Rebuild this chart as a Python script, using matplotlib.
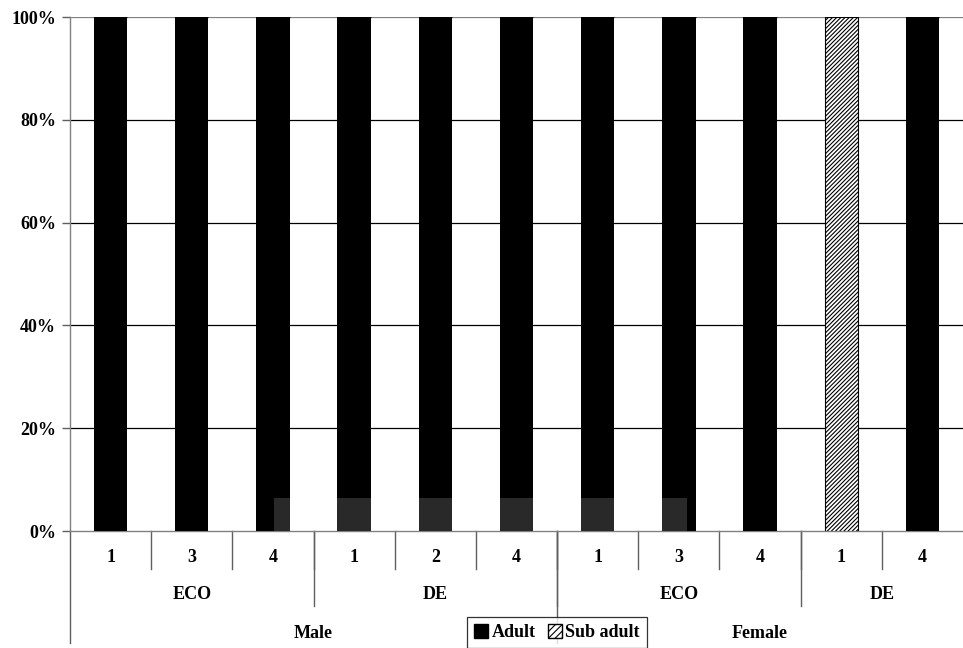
import numpy as np
import matplotlib
matplotlib.use("Agg")
import matplotlib.pyplot as plt
from matplotlib.patches import Patch, Rectangle
from matplotlib.lines import Line2D

plt.rcParams['font.family'] = ['Liberation Serif', 'DejaVu Serif']
plt.rcParams['font.weight'] = 'bold'
plt.rcParams['hatch.linewidth'] = 0.8

# data
sites = ['1', '3', '4', '1', '2', '4', '1', '3', '4', '1', '4']
groups = ['ECO', 'DE', 'ECO', 'DE']
group_sizes = [3, 3, 3, 2]
sexes = ['Male', 'Female']
sex_sizes = [6, 5]
adult = [100, 100, 100, 100, 100, 100, 100, 100, 100, 0, 100]
sub_adult = [0, 0, 0, 0, 0, 0, 0, 0, 0, 100, 0]
yticks = [0, 20, 40, 60, 80, 100]

FS = 13

fig = plt.figure(figsize=(9.63, 6.48), dpi=100)
ax = fig.add_axes([70/963, 1-531/648, 893/963, 514/648])

x = np.arange(len(sites))
w = 0.41
ax.bar(x, adult, w, color='black', zorder=3)
ax.bar(x, sub_adult, w, bottom=adult, color='white', edgecolor='black',
       hatch='////////', linewidth=0.8, zorder=3)

ax.set_xlim(-0.5, len(sites) - 0.5)
ax.set_ylim(0, 100)
ax.set_yticks(yticks)
ax.set_yticklabels([f'{v}%' for v in yticks], fontsize=FS, fontweight='bold')
ax.set_xticks([])
ax.tick_params(axis='y', length=6, color='#606060', width=1, pad=4)
for g in yticks[1:]:
    ax.axhline(g, color='black' if g < 100 else '#808080', lw=0.9, zorder=1)
for s in ['top', 'right']:
    ax.spines[s].set_visible(False)
for s in ['left', 'bottom']:
    ax.spines[s].set_color('#808080')
    ax.spines[s].set_linewidth(1)

# watermark shading over bar bottoms
ax.add_patch(Rectangle((2.01, 0), 5.09, 6.4, facecolor='white', alpha=0.165,
                       edgecolor='none', zorder=4))

# multi-level category axis
trans = ax.get_xaxis_transform()
sep = dict(color='#606060', lw=1, transform=trans, clip_on=False)
ax.add_line(Line2D([-0.5, -0.5], [0, -0.218], **sep))
for i in range(len(sites)):
    ax.text(i, -0.0506, sites[i], transform=trans, ha='center', va='center',
            fontsize=FS, fontweight='bold')
    if i > 0:
        ax.add_line(Line2D([i - 0.5, i - 0.5], [0, -0.074], **sep))

start = 0
for g, n in zip(groups, group_sizes):
    ax.text(start + (n - 1) / 2, -0.1226, g, transform=trans, ha='center',
            va='center', fontsize=FS, fontweight='bold')
    if start > 0:
        ax.add_line(Line2D([start - 0.5, start - 0.5], [0, -0.146], **sep))
    start += n

start = 0
for s, n in zip(sexes, sex_sizes):
    ax.text(start + (n - 1) / 2, -0.1985, s, transform=trans, ha='center',
            va='center', fontsize=FS, fontweight='bold')
    if start > 0:
        ax.add_line(Line2D([start - 0.5, start - 0.5], [0, -0.218], **sep))
    start += n

handles = [Patch(facecolor='black', edgecolor='black', label='Adult'),
           Patch(facecolor='white', edgecolor='black', hatch='/////', label='Sub adult')]
leg = fig.legend(handles=handles, loc='upper center', bbox_to_anchor=(557/963, 1-617/648),
                 ncol=2, frameon=True, fancybox=False, fontsize=FS,
                 handlelength=0.75, handleheight=0.75, handletextpad=0.2,
                 columnspacing=0.7, borderpad=0.4, borderaxespad=0)
leg.get_frame().set_edgecolor('black')
leg.get_frame().set_linewidth(0.9)
for t in leg.get_texts():
    t.set_fontweight('bold')

fig.savefig('out.png', dpi=100)
